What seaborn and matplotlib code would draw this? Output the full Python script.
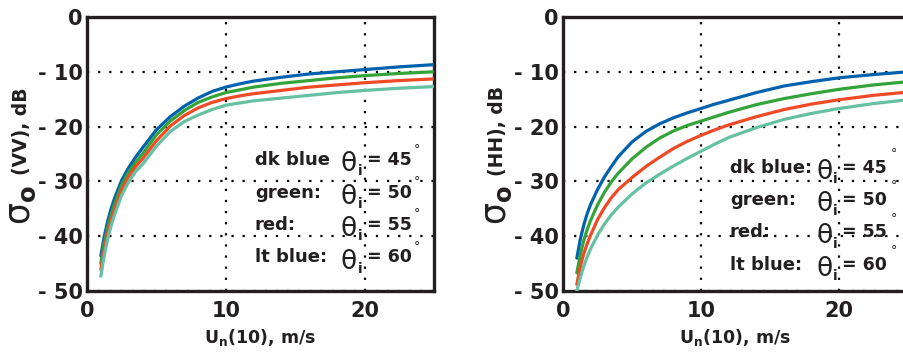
import matplotlib
matplotlib.use("Agg")
import matplotlib.pyplot as plt
import seaborn as sns
import pandas as pd

# wind speed U_n(10), m/s
wind = [1, 1.25, 1.5, 1.75, 2, 2.5, 3, 3.5, 4, 5, 6, 7, 8, 9, 10, 11, 12, 14, 16, 18, 20, 22.5, 25]

# sigma_o (VV), dB  for incidence 45, 50, 55, 60 deg
vv_45 = [-43.6, -40.0, -37.2, -34.9, -33.0, -29.8, -27.5, -25.6, -23.9, -20.6, -18.2, -16.3, -14.8, -13.6,
         -12.8, -12.2, -11.7, -11.0, -10.4, -10.0, -9.6, -9.1, -8.7]
vv_50 = [-45.0, -41.2, -38.3, -36.0, -34.0, -30.6, -28.3, -26.5, -25.0, -21.5, -19.0, -17.1, -15.6, -14.6,
         -13.8, -13.3, -12.8, -12.1, -11.6, -11.1, -10.7, -10.3, -10.0]
vv_55 = [-46.1, -42.3, -39.3, -37.0, -35.0, -31.5, -29.1, -27.3, -25.9, -22.6, -19.9, -18.0, -16.6, -15.6,
         -14.9, -14.4, -14.0, -13.4, -12.8, -12.4, -12.0, -11.6, -11.3]
vv_60 = [-47.3, -43.5, -40.4, -38.0, -36.0, -32.5, -30.1, -28.2, -26.9, -23.6, -20.9, -19.1, -17.9, -16.9,
         -16.1, -15.7, -15.3, -14.8, -14.3, -13.8, -13.4, -13.0, -12.7]

# sigma_o (HH), dB
hh_45 = [-44.0, -40.6, -38.0, -35.9, -34.2, -31.5, -29.2, -27.3, -25.5, -22.8, -20.9, -19.5, -18.4, -17.5,
         -16.7, -15.9, -15.2, -13.8, -12.6, -11.8, -11.1, -10.5, -10.0]
hh_50 = [-46.7, -43.4, -40.8, -38.8, -37.1, -34.3, -32.0, -30.1, -28.5, -25.9, -23.8, -22.1, -20.8, -19.8,
         -19.0, -18.2, -17.4, -16.0, -14.9, -14.0, -13.2, -12.4, -11.8]
hh_55 = [-48.8, -45.6, -43.2, -41.4, -39.8, -37.0, -34.8, -33.0, -31.5, -29.3, -27.3, -25.6, -24.0, -22.7,
         -21.6, -20.6, -19.7, -18.2, -16.9, -15.9, -15.1, -14.3, -13.7]
hh_60 = [-50.0, -47.6, -45.5, -43.8, -42.3, -39.8, -37.8, -36.1, -34.7, -32.3, -30.3, -28.7, -27.2, -25.8,
         -24.5, -23.2, -22.0, -20.2, -18.7, -17.6, -16.7, -15.8, -15.1]

angles = [45, 50, 55, 60]
names_vv = ["dk blue", "green:", "red:", "lt blue:"]
names_hh = ["dk blue:", "green:", "red:", "lt blue:"]
colors = ["#0061ad", "#34a33a", "#ee4a26", "#66c0a2"]

yticks = [0, -10, -20, -30, -40, -50]
yticklabels = ["0", "- 10", "- 20", "- 30", "- 40", "- 50"]
xticks = [0, 10, 20]

rows = []
for pol, series in [("VV", [vv_45, vv_50, vv_55, vv_60]), ("HH", [hh_45, hh_50, hh_55, hh_60])]:
    for ang, vals in zip(angles, series):
        for u, s in zip(wind, vals):
            rows.append({"pol": pol, "angle": ang, "wind": u, "sigma": s})
df = pd.DataFrame(rows)

sns.set_style("white")
plt.rcParams['font.family'] = ['DejaVu Sans']
plt.rcParams['mathtext.fontset'] = 'custom'
plt.rcParams['mathtext.rm'] = 'DejaVu Sans:bold'
plt.rcParams['mathtext.bf'] = 'DejaVu Sans:bold'
plt.rcParams['mathtext.it'] = 'DejaVu Sans:bold'

ink = "#231f20"
fig = plt.figure(figsize=(9.04, 3.57), dpi=100)
ax1 = fig.add_axes([0.0962, 0.1849, 0.3838, 0.7675])
ax2 = fig.add_axes([0.6228, 0.1849, 0.3816, 0.7675])

palette = dict(zip(angles, colors))


def panel(ax, pol, names, rows_y, xs, deg_dy, ylab):
    sns.lineplot(data=df[df.pol == pol], x="wind", y="sigma", hue="angle",
                 palette=palette, linewidth=2.3, legend=False, ax=ax, zorder=3)
    ax.set_xlim(0, 25)
    ax.set_ylim(-50, 0)
    ax.set_xticks(xticks)
    ax.set_xticklabels([str(t) for t in xticks], fontsize=15, fontweight="bold", color=ink)
    ax.set_yticks(yticks)
    ax.set_yticklabels(yticklabels, fontsize=15, fontweight="bold", color=ink)
    ax.tick_params(axis="both", length=0)
    ax.tick_params(axis="x", pad=7)
    ax.tick_params(axis="y", pad=3)
    ax.grid(True, color="k", linestyle=(0, (1, 4)), linewidth=1.6)
    for sp in ax.spines.values():
        sp.set_linewidth(2.4)
        sp.set_color(ink)
        sp.set_visible(True)
    ax.set_xlabel(r"U$_{n}$(10), m/s", fontsize=12.5, fontweight="bold", color=ink)
    ax.xaxis.set_label_coords(0.5, -0.13)
    ax.set_ylabel("")
    # y label: big sigma with subscript o, then (VV), dB
    ax.text(-0.19, 0.315, r"σ$_{o}$", rotation=90, fontsize=25, ha="center", va="center",
            transform=ax.transAxes, color=ink)
    ax.text(-0.19, 0.585, ylab, rotation=90, fontsize=13.5, fontweight="bold", ha="center",
            va="center", transform=ax.transAxes, color=ink)
    lx, tx, sx, ex, dx = xs
    for name, ang, y in zip(names, angles, rows_y):
        ax.text(lx, y, name, fontsize=13, fontweight="bold", va="baseline", color=ink, zorder=5)
        ax.text(tx, y - 1.1, "θ", fontsize=19, va="baseline", color=ink, zorder=5)
        ax.text(sx, y - 1.9, "i", fontsize=10, fontweight="bold", va="baseline", color=ink, zorder=5)
        ax.text(ex, y, "= %d" % ang, fontsize=12.5, fontweight="bold", va="baseline", color=ink, zorder=5)
        ax.text(dx, y + deg_dy, "°", fontsize=9, ha="center", va="center", color=ink, zorder=5)


panel(ax1, "VV", names_vv, [-27.0, -33.0, -38.8, -44.8],
      (12.1, 18.3, 19.55, 20.15, 23.75), 2.9, "(VV), dB")
panel(ax2, "HH", names_hh, [-28.4, -34.3, -40.2, -46.1],
      (12.1, 18.35, 19.55, 20.25, 23.95), 3.5, "(HH), dB")

fig.savefig("out.png", dpi=100)
